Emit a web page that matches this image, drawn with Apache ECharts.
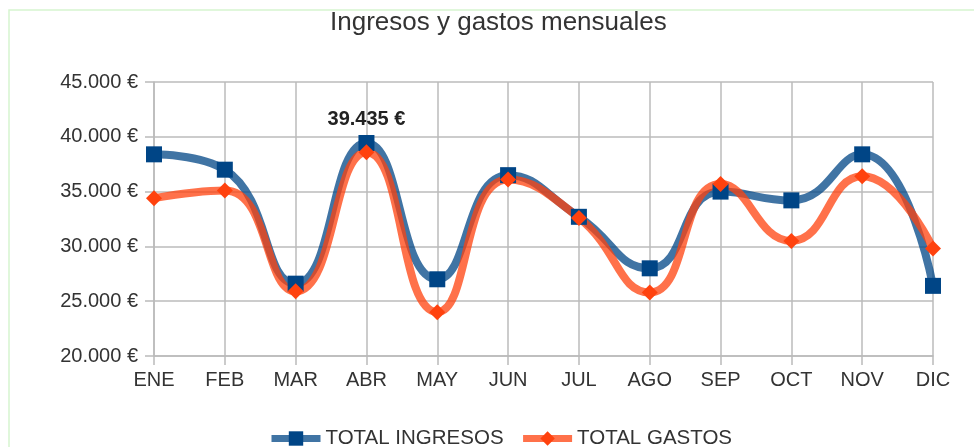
<!DOCTYPE html>
<html>
<head>
<meta charset="utf-8">
<script src="https://cdn.jsdelivr.net/npm/echarts@6/dist/echarts.min.js"></script>
<style>
  html, body { margin: 0; padding: 0; background: #fff; }
  #chart { width: 974px; height: 447px; }
</style>
</head>
<body>
<div id="chart"></div>
<script>
var months = ['ENE', 'FEB', 'MAR', 'ABR', 'MAY', 'JUN', 'JUL', 'AGO', 'SEP', 'OCT', 'NOV', 'DIC'];
var ingresos = [38400, 37000, 26600, 39435, 27000, 36500, 32700, 28000, 35000, 34200, 38400, 26400];
var gastos = [34400, 35100, 25900, 38600, 24000, 36100, 32600, 25800, 35700, 30500, 36400, 29800];

// formato 45.000 €
function euro(v) {
  return String(Math.round(v)).replace(/\B(?=(\d{3})+(?!\d))/g, '.') + ' €';
}

var font = 'Liberation Sans';
var chart = echarts.init(document.getElementById('chart'));

chart.setOption({
  animation: false,
  backgroundColor: '#fff',
  title: {
    text: 'Ingresos y gastos mensuales',
    left: 325,
    top: 5,
    textStyle: { fontFamily: font, fontSize: 26, fontWeight: 'normal', color: '#333' }
  },
  graphic: [{
    type: 'rect',
    shape: { x: 9, y: 10, width: 2000, height: 1000 },
    style: { fill: 'none', stroke: '#d6f5cf', lineWidth: 1.5 },
    silent: true
  }],
  legend: {
    top: 428,
    left: 268,
    padding: 0,
    itemWidth: 49,
    itemHeight: 18,
    itemGap: 16,
    lineStyle: { width: 7 },
    textStyle: { fontFamily: font, fontSize: 20.5, color: '#333' },
    data: ['TOTAL INGRESOS', 'TOTAL GASTOS']
  },
  grid: { left: 154, right: 41, top: 82, bottom: 91 },
  xAxis: {
    type: 'category',
    data: months,
    boundaryGap: false,
    axisLine: { show: true, lineStyle: { color: '#bbb', width: 1.5 } },
    axisTick: { show: true, length: 9, lineStyle: { color: '#bbb', width: 1.5 } },
    axisLabel: { fontFamily: font, fontSize: 20, color: '#333', margin: 14 },
    splitLine: { show: true, lineStyle: { color: '#bbb', width: 1.5 } }
  },
  yAxis: {
    type: 'value',
    min: 20000,
    max: 45000,
    interval: 5000,
    axisLine: { show: true, lineStyle: { color: '#bbb', width: 1.5 } },
    axisTick: { show: true, length: 9, lineStyle: { color: '#bbb', width: 1.5 } },
    axisLabel: { fontFamily: font, fontSize: 20, color: '#333', margin: 16, formatter: euro },
    splitLine: { show: true, lineStyle: { color: '#bbb', width: 1.5 } }
  },
  series: [
    {
      name: 'TOTAL INGRESOS',
      type: 'line',
      data: ingresos,
      smooth: 0.5,
      symbol: 'rect',
      symbolSize: 16,
      itemStyle: { color: '#004586' },
      lineStyle: { color: 'rgba(0,69,134,0.75)', width: 8 },
      label: {
        show: true,
        position: 'top',
        distance: 6,
        fontFamily: font,
        fontSize: 20,
        fontWeight: 'bold',
        color: '#222',
        formatter: function (p) { return p.dataIndex === 3 ? euro(p.value) : ''; }
      }
    },
    {
      name: 'TOTAL GASTOS',
      type: 'line',
      data: gastos,
      smooth: 0.5,
      symbol: 'diamond',
      symbolSize: 16,
      itemStyle: { color: '#ff420e' },
      lineStyle: { color: 'rgba(255,66,14,0.75)', width: 8 }
    }
  ]
});
</script>
</body>
</html>
